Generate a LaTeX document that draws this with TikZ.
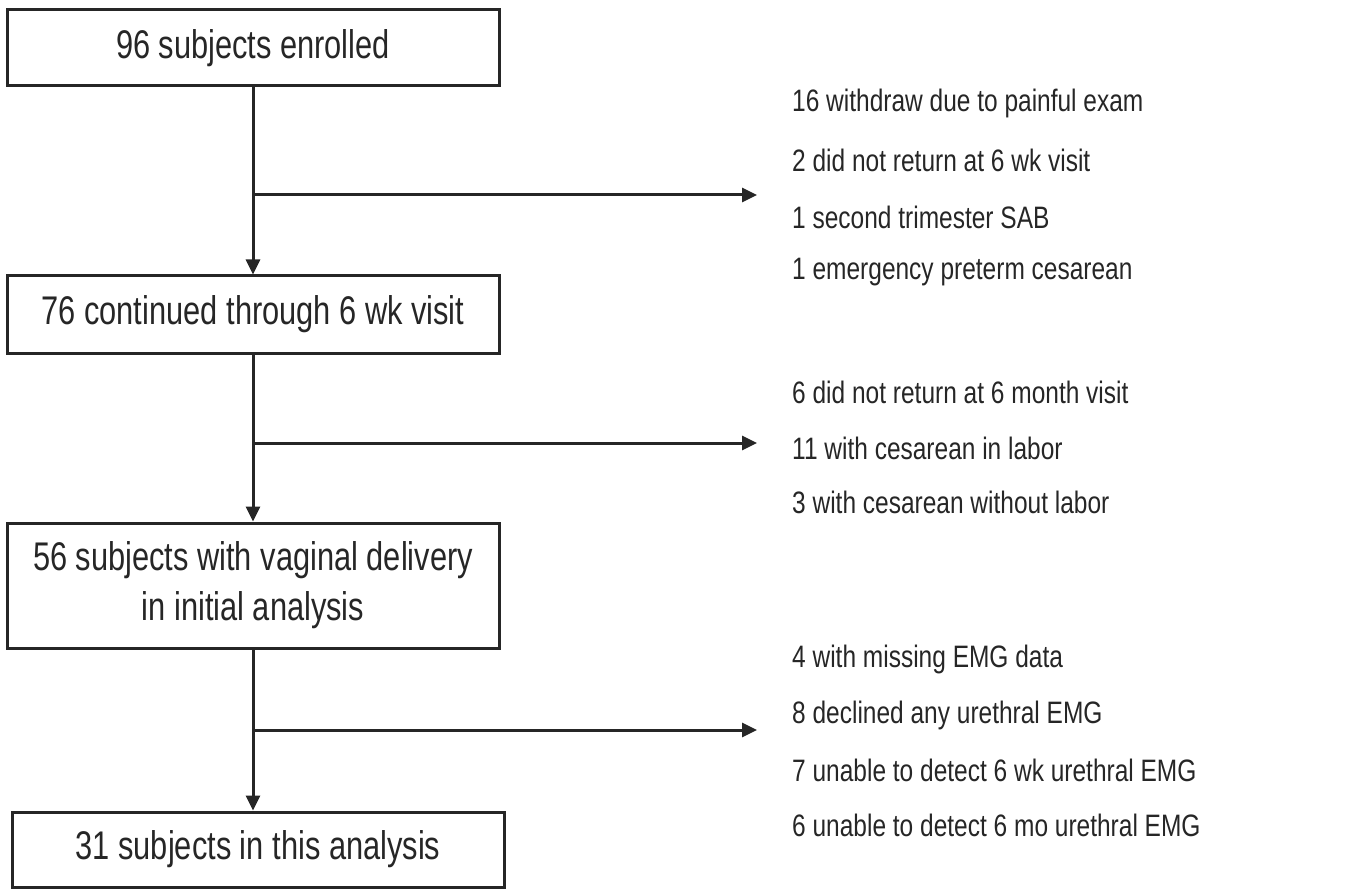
\documentclass[tikz,border=0pt]{standalone}
\usepackage{fontspec}
\setmainfont{Liberation Sans}[FakeStretch=0.77]
\newfontfamily\notefont{Liberation Sans}[FakeStretch=0.79]
\usetikzlibrary{arrows.meta,calc}
\definecolor{ink}{HTML}{262626}
\begin{document}
\begin{tikzpicture}[x=1pt,y=-1pt,
  box/.style={draw=ink,line width=3pt,minimum width=492pt,align=center,inner sep=0pt,text=ink,
    font=\fontsize{40}{50}\selectfont},
  note/.style={anchor=west,inner sep=0pt,text=ink,font=\notefont\fontsize{31}{34}\selectfont},
  conn/.style={draw=ink,line width=3pt},
  arr/.style={conn,-{Triangle[length=15pt,width=14pt]}}]
\useasboundingbox (0,0) rectangle (1349,893);
\node[box,minimum height=76pt] (b1) at (253,48) {96 subjects enrolled};
\node[box,minimum height=77pt] (b2) at (253,314.5) {76 continued through 6 wk visit};
\node[box,minimum height=125pt] (b3) at (253,585.5) {56 subjects with vaginal delivery\\in initial analysis};
\node[box,minimum height=75pt] (b4) at (258,849.5) {31 subjects in this analysis};

\coordinate (j1) at (254,195);
\coordinate (e1) at (757,195);
\coordinate (j2) at (254,443);
\coordinate (e2) at (757,443);
\coordinate (j3) at (254,730);
\coordinate (e3) at (757,730);

\draw[arr] (b1.south) -- (b2.north);
\draw[arr] (b2.south) -- (b3.north);
\draw[arr] (b3.south) -- (b3.south |- b4.north);
\draw[arr] (j1) -- (e1);
\draw[arr] (j2) -- (e2);
\draw[arr] (j3) -- (e3);

\node[note] (n11) at (792,103) {16 withdraw due to painful exam};
\node[note] (n12) at (792,160) {2 did not return at 6 wk visit};
\node[note] (n13) at (792,217) {1 second trimester SAB};
\node[note] (n14) at (792,272) {1 emergency preterm cesarean};

\node[note] (n21) at (792,392) {6 did not return at 6 month visit};
\node[note] (n22) at (792,448) {11 with cesarean in labor};
\node[note] (n23) at (792,502) {3 with cesarean without labor};

\node[note] (n31) at (792,659) {4 with missing EMG data};
\node[note] (n32) at (792,715) {8 declined any urethral EMG};
\node[note] (n33) at (792,770) {7 unable to detect 6 wk urethral EMG};
\node[note] (n34) at (792,825) {6 unable to detect 6 mo urethral EMG};
\end{tikzpicture}
\end{document}
